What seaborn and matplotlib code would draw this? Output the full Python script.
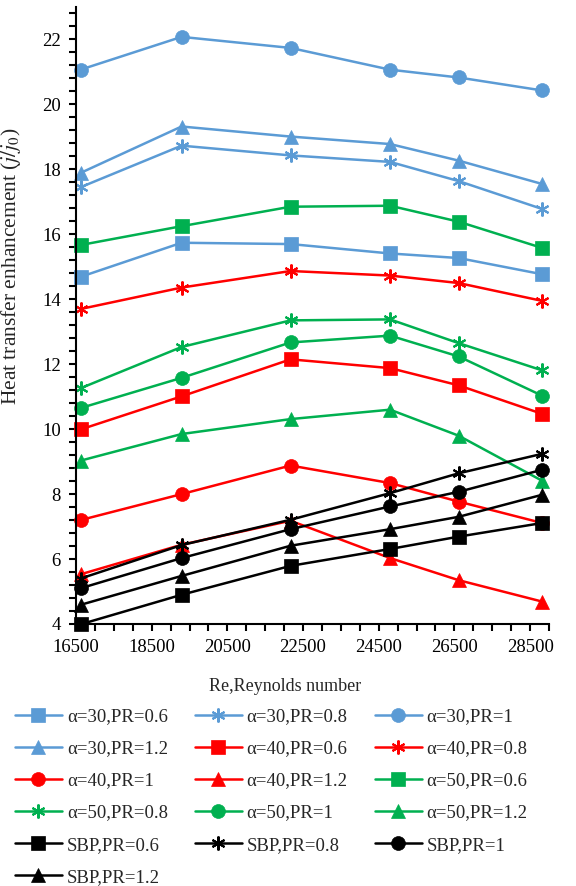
import numpy as np
import pandas as pd
import matplotlib
matplotlib.use('Agg')
import matplotlib.pyplot as plt
from matplotlib.ticker import MultipleLocator
import seaborn as sns

# Reynolds numbers (x)
re_num = [16620, 19290, 22170, 24800, 26610, 28820]

# heat transfer enhancement j/j0 per case
a30_06 = [14.69, 15.74, 15.70, 15.41, 15.27, 14.77]
a30_08 = [17.45, 18.73, 18.43, 18.23, 17.64, 16.78]
a30_10 = [21.07, 22.08, 21.74, 21.07, 20.83, 20.43]
a30_12 = [17.89, 19.32, 19.01, 18.78, 18.27, 17.55]
a40_06 = [9.99, 11.01, 12.15, 11.88, 11.35, 10.47]
a40_08 = [13.70, 14.36, 14.87, 14.73, 14.50, 13.95]
a40_10 = [7.20, 8.00, 8.88, 8.34, 7.77, 7.11]
a40_12 = [5.53, 6.44, 7.18, 6.03, 5.35, 4.69]
a50_06 = [15.67, 16.25, 16.85, 16.88, 16.39, 15.58]
a50_08 = [11.26, 12.53, 13.35, 13.38, 12.65, 11.81]
a50_10 = [10.65, 11.58, 12.67, 12.88, 12.24, 11.03]
a50_12 = [9.03, 9.85, 10.31, 10.60, 9.80, 8.41]
sbp_06 = [3.99, 4.90, 5.79, 6.31, 6.69, 7.11]
sbp_08 = [5.40, 6.43, 7.21, 8.03, 8.64, 9.24]
sbp_10 = [5.10, 6.03, 6.92, 7.62, 8.07, 8.75]
sbp_12 = [4.59, 5.48, 6.41, 6.92, 7.30, 7.98]

labels = ['α=30,PR=0.6', 'α=30,PR=0.8', 'α=30,PR=1', 'α=30,PR=1.2',
          'α=40,PR=0.6', 'α=40,PR=0.8', 'α=40,PR=1', 'α=40,PR=1.2',
          'α=50,PR=0.6', 'α=50,PR=0.8', 'α=50,PR=1', 'α=50,PR=1.2',
          'SBP,PR=0.6', 'SBP,PR=0.8', 'SBP,PR=1', 'SBP,PR=1.2']
series = [a30_06, a30_08, a30_10, a30_12, a40_06, a40_08, a40_10, a40_12,
          a50_06, a50_08, a50_10, a50_12, sbp_06, sbp_08, sbp_10, sbp_12]

group_colors = ['#5B9BD5', '#FF0000', '#00B050', '#000000']
pr_markers = ['s', (6, 2, 0), 'o', '^']

sns.set_style('ticks')
plt.rcParams['font.family'] = ['Liberation Serif', 'DejaVu Serif']
plt.rcParams['mathtext.fontset'] = 'stix'
plt.rcParams['font.size'] = 13.5

fig = plt.figure(figsize=(5.76, 8.86), dpi=100)
ax = fig.add_axes([76/576, 262/886, 473/576, 617/886])

for i, (lab, vals) in enumerate(zip(labels, series)):
    col = group_colors[i // 4]
    mk = pr_markers[i % 4]
    df = pd.DataFrame({'Re': re_num, 'j': vals})
    star = isinstance(mk, tuple)
    sns.lineplot(data=df, x='Re', y='j', color=col, marker=mk, linewidth=1.8,
                 markersize=10, markeredgecolor=col,
                 markerfacecolor=col, markeredgewidth=1.5 if star else 0.5,
                 label=lab, ax=ax, clip_on=False, legend=False)

ax.set_xlim(16500, 29000)
ax.set_ylim(4, 23)
ax.set_xticks(np.arange(16500, 29001, 2000))
ax.xaxis.set_minor_locator(MultipleLocator(500))
ax.yaxis.set_major_locator(MultipleLocator(2))
ax.yaxis.set_minor_locator(MultipleLocator(0.4))
ax.set_yticks(np.arange(4, 23, 2))
for s in ['top', 'right']:
    ax.spines[s].set_visible(False)
for s in ['left', 'bottom']:
    ax.spines[s].set_linewidth(1.5)
    ax.spines[s].set_color('black')
ax.tick_params(which='both', direction='out', length=5, width=1.5, colors='black',
               labelsize=13.5, pad=6)

ax.set_xlabel('Re,Reynolds number', fontsize=13)
ax.xaxis.set_label_coords(0.442, -0.087)
ax.set_ylabel(r'Heat transfer enhancement ($j/j_{\mathit{0}}$)', fontsize=15.5)
ax.yaxis.set_label_coords(-0.112, 0.58)

handles, labs = ax.get_legend_handles_labels()
order = [0, 3, 6, 9, 12, 15, 1, 4, 7, 10, 13, 2, 5, 8, 11, 14]
fig.legend([handles[k] for k in order], [labs[k] for k in order], ncol=3,
           loc='upper left', bbox_to_anchor=(15/576, 1 - 708/886), frameon=False,
           borderaxespad=0, borderpad=0, handlelength=2.5, handletextpad=0.26,
           columnspacing=1.45, labelspacing=0.8, numpoints=1, fontsize=13.5)

fig.savefig('out.png', dpi=100)
